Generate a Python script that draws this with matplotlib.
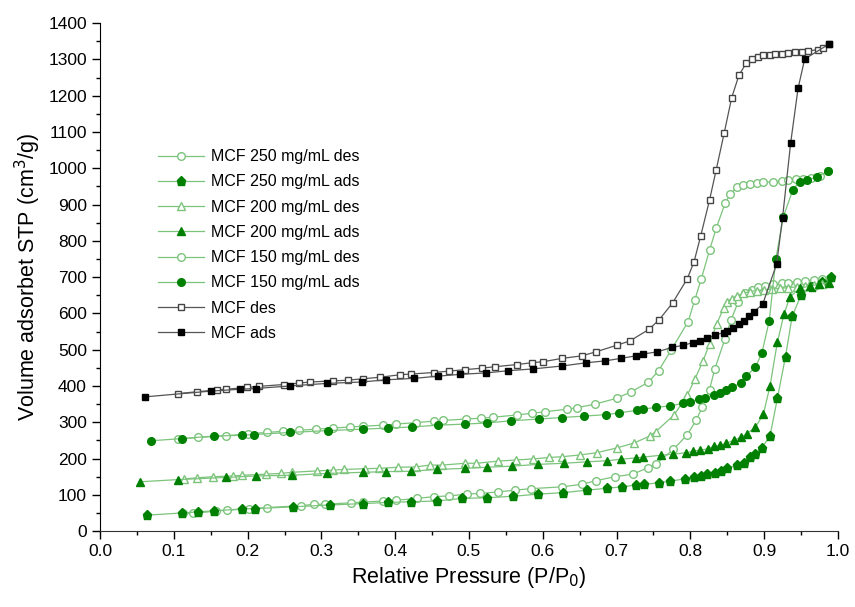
import matplotlib.pyplot as plt
from matplotlib.ticker import MultipleLocator

plt.rcParams['font.family'] = ['Liberation Sans', 'DejaVu Sans']

# MCF
mcf_ads_x = [0.061, 0.151, 0.190, 0.211, 0.257, 0.307, 0.355, 0.388, 0.426, 0.458, 0.488, 0.523,
             0.553, 0.587, 0.626, 0.659, 0.684, 0.706, 0.726, 0.736, 0.755, 0.775, 0.790, 0.803,
             0.813, 0.823, 0.833, 0.845, 0.850, 0.858, 0.866, 0.873, 0.880, 0.886, 0.898, 0.917,
             0.925, 0.936, 0.946, 0.955, 0.988]
mcf_ads_y = [370, 386, 391, 393, 400, 407, 411, 417, 421, 427, 432, 436,
             442, 447, 455, 464, 469, 476, 483, 488, 494, 506, 512, 519,
             524, 531, 540, 547, 552, 559, 570, 580, 592, 604, 625, 736,
             864, 1070, 1220, 1301, 1342]
mcf_des_x = [0.106, 0.131, 0.158, 0.171, 0.199, 0.216, 0.249, 0.270, 0.285, 0.316, 0.336, 0.357,
             0.379, 0.407, 0.422, 0.452, 0.473, 0.495, 0.517, 0.535, 0.565, 0.585, 0.601, 0.626,
             0.653, 0.672, 0.700, 0.718, 0.744, 0.758, 0.776, 0.796, 0.805, 0.814, 0.826, 0.835,
             0.846, 0.856, 0.866, 0.876, 0.883, 0.892, 0.899, 0.908, 0.915, 0.924, 0.933, 0.942,
             0.951, 0.960, 0.973, 0.980, 0.988]
mcf_des_y = [379, 384, 389, 391, 396, 399, 404, 408, 411, 414, 416, 420,
             424, 431, 433, 437, 441, 445, 449, 453, 459, 464, 467, 476,
             483, 494, 512, 524, 556, 583, 629, 696, 742, 813, 912, 995,
             1098, 1194, 1257, 1290, 1300, 1307, 1311, 1313, 1314, 1316, 1318, 1320,
             1321, 1323, 1327, 1331, 1342]

# MCF 150 mg/mL
c150_ads_x = [0.069, 0.111, 0.154, 0.192, 0.208, 0.258, 0.309, 0.356, 0.390, 0.423, 0.458, 0.495,
              0.524, 0.557, 0.595, 0.626, 0.656, 0.686, 0.704, 0.728, 0.736, 0.753, 0.772, 0.790,
              0.799, 0.812, 0.820, 0.832, 0.840, 0.848, 0.857, 0.868, 0.876, 0.888, 0.897, 0.907,
              0.916, 0.926, 0.939, 0.948, 0.958, 0.971, 0.987]
c150_ads_y = [249, 255, 262, 264, 266, 272, 277, 281, 284, 287, 292, 295,
              298, 304, 309, 313, 317, 321, 326, 333, 336, 341, 345, 352,
              357, 363, 368, 375, 381, 388, 396, 409, 428, 451, 491, 580,
              751, 866, 941, 963, 967, 976, 992]
c150_des_x = [0.106, 0.133, 0.171, 0.201, 0.226, 0.248, 0.270, 0.293, 0.316, 0.339, 0.356, 0.383,
              0.401, 0.428, 0.452, 0.465, 0.496, 0.516, 0.533, 0.565, 0.586, 0.603, 0.633, 0.646,
              0.671, 0.700, 0.720, 0.743, 0.757, 0.774, 0.797, 0.806, 0.815, 0.826, 0.835, 0.847,
              0.854, 0.863, 0.872, 0.881, 0.890, 0.899, 0.912, 0.924, 0.933, 0.943, 0.953, 0.964,
              0.976, 0.987]
c150_des_y = [254, 258, 263, 268, 272, 275, 278, 281, 284, 287, 289, 292,
              295, 299, 303, 305, 309, 311, 314, 320, 325, 329, 336, 340,
              350, 366, 384, 410, 442, 499, 577, 637, 696, 774, 834, 903,
              928, 948, 953, 956, 958, 961, 963, 964, 967, 969, 970, 973,
              978, 992]

# MCF 200 mg/mL
c200_ads_x = [0.054, 0.106, 0.171, 0.211, 0.260, 0.308, 0.356, 0.388, 0.422, 0.456, 0.495, 0.524,
              0.558, 0.594, 0.629, 0.660, 0.687, 0.706, 0.727, 0.736, 0.760, 0.776, 0.794, 0.803,
              0.813, 0.824, 0.832, 0.840, 0.849, 0.859, 0.868, 0.877, 0.888, 0.899, 0.908, 0.918,
              0.927, 0.935, 0.949, 0.962, 0.975, 0.988]
c200_ads_y = [136, 142, 148, 152, 154, 159, 162, 164, 165, 170, 173, 176,
              179, 184, 187, 191, 194, 198, 202, 204, 209, 212, 216, 220,
              223, 227, 234, 236, 242, 251, 258, 269, 286, 322, 400, 521,
              598, 646, 669, 676, 680, 685]
c200_des_x = [0.114, 0.132, 0.153, 0.180, 0.193, 0.225, 0.245, 0.260, 0.294, 0.316, 0.330, 0.359,
              0.378, 0.404, 0.428, 0.447, 0.464, 0.495, 0.510, 0.540, 0.564, 0.587, 0.609, 0.626,
              0.651, 0.673, 0.700, 0.724, 0.745, 0.753, 0.778, 0.796, 0.806, 0.817, 0.826, 0.836,
              0.845, 0.850, 0.856, 0.863, 0.872, 0.881, 0.890, 0.900, 0.911, 0.922, 0.933, 0.944,
              0.955, 0.967, 0.978]
c200_des_y = [144, 147, 150, 152, 154, 157, 159, 162, 166, 168, 170, 172,
              173, 176, 177, 182, 182, 187, 187, 193, 196, 199, 203, 205,
              210, 216, 229, 243, 262, 274, 320, 375, 418, 468, 516, 572,
              614, 632, 641, 648, 656, 660, 663, 665, 667, 669, 671, 673,
              675, 678, 682]

# MCF 250 mg/mL
c250_ads_x = [0.064, 0.111, 0.133, 0.154, 0.192, 0.210, 0.262, 0.312, 0.357, 0.390, 0.422, 0.456,
              0.490, 0.524, 0.560, 0.594, 0.628, 0.660, 0.687, 0.707, 0.726, 0.737, 0.758, 0.773,
              0.793, 0.805, 0.814, 0.823, 0.833, 0.842, 0.850, 0.863, 0.873, 0.881, 0.888, 0.897,
              0.908, 0.918, 0.929, 0.938, 0.950, 0.965, 0.978, 0.990]
c250_ads_y = [44, 50, 53, 56, 61, 62, 67, 72, 76, 79, 81, 83,
              90, 92, 96, 102, 106, 113, 118, 122, 127, 129, 133, 138,
              144, 150, 152, 157, 161, 166, 173, 182, 189, 203, 212, 230,
              262, 366, 481, 592, 650, 672, 686, 700]
c250_des_x = [0.113, 0.126, 0.157, 0.172, 0.202, 0.226, 0.272, 0.290, 0.305, 0.340, 0.356, 0.384,
              0.401, 0.429, 0.452, 0.473, 0.498, 0.515, 0.540, 0.562, 0.584, 0.626, 0.653, 0.672,
              0.698, 0.722, 0.743, 0.754, 0.777, 0.796, 0.808, 0.816, 0.826, 0.833, 0.847, 0.855,
              0.865, 0.874, 0.883, 0.892, 0.901, 0.912, 0.924, 0.933, 0.944, 0.955, 0.967, 0.978,
              0.989]
c250_des_y = [49, 49, 55, 58, 61, 65, 70, 74, 74, 78, 80, 83,
              85, 90, 95, 97, 102, 104, 108, 113, 117, 122, 129, 139,
              150, 157, 175, 186, 225, 266, 306, 341, 390, 446, 530, 581,
              632, 655, 664, 673, 676, 680, 683, 685, 687, 689, 692, 694,
              697]

green_line = '#7cc47c'
green = '#008000'
grey_line = '#555555'

fig, ax = plt.subplots(figsize=(8.55, 6.07), dpi=100)
fig.subplots_adjust(left=0.117, right=0.980, bottom=0.125, top=0.962)

ms = 5.5
ax.plot(c250_des_x, c250_des_y, color=green_line, lw=0.9, marker='o', ms=ms,
        mfc='white', mec=green_line, label='MCF 250 mg/mL des')
ax.plot(c250_ads_x, c250_ads_y, color=green_line, lw=0.9, marker='p', ms=ms + 1,
        mfc=green, mec=green, label='MCF 250 mg/mL ads')
ax.plot(c200_des_x, c200_des_y, color=green_line, lw=0.9, marker='^', ms=ms,
        mfc='white', mec=green_line, label='MCF 200 mg/mL des')
ax.plot(c200_ads_x, c200_ads_y, color=green_line, lw=0.9, marker='^', ms=ms,
        mfc=green, mec=green, label='MCF 200 mg/mL ads')
ax.plot(c150_des_x, c150_des_y, color=green_line, lw=0.9, marker='o', ms=ms,
        mfc='white', mec=green_line, label='MCF 150 mg/mL des')
ax.plot(c150_ads_x, c150_ads_y, color=green_line, lw=0.9, marker='o', ms=ms,
        mfc=green, mec=green, label='MCF 150 mg/mL ads')
ax.plot(mcf_des_x, mcf_des_y, color=grey_line, lw=0.9, marker='s', ms=ms - 0.5,
        mfc='white', mec='#444444', label='MCF des')
ax.plot(mcf_ads_x, mcf_ads_y, color=grey_line, lw=0.9, marker='s', ms=ms - 0.5,
        mfc='black', mec='black', label='MCF ads')

ax.set_xlim(0, 1.0)
ax.set_ylim(0, 1400)
ax.xaxis.set_major_locator(MultipleLocator(0.1))
ax.xaxis.set_minor_locator(MultipleLocator(0.05))
ax.yaxis.set_major_locator(MultipleLocator(100))
ax.yaxis.set_minor_locator(MultipleLocator(50))
ax.xaxis.set_major_formatter(plt.FuncFormatter(lambda v, p: f'{v:.1f}'))
ax.tick_params(which='major', direction='out', length=6, width=1, labelsize=12.5)
ax.tick_params(which='minor', direction='out', length=3, width=1)
ax.spines['top'].set_visible(False)
ax.spines['right'].set_visible(False)
ax.spines['bottom'].set_color('#333333')

ax.set_xlabel('Relative Pressure (P/P$_0$)', fontsize=15.5)
ax.set_ylabel('Volume adsorbet STP (cm$^3$/g)', fontsize=15.5)

ax.legend(loc='upper left', bbox_to_anchor=(0.059, 0.78), frameon=False,
          fontsize=11.5, handlelength=2.9, labelspacing=0.64, handletextpad=0.4)

fig.savefig('out.png', dpi=100)
